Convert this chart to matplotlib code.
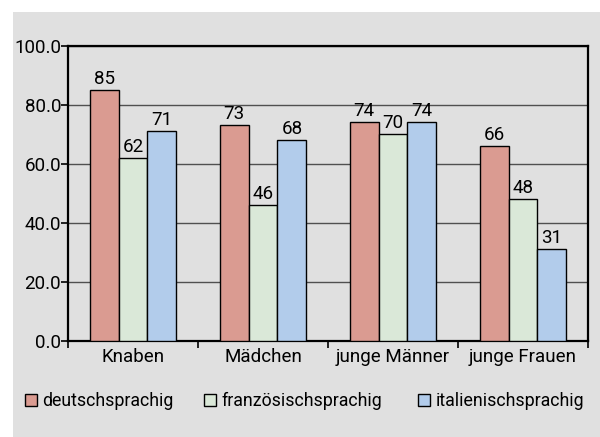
import matplotlib
matplotlib.use("Agg")
import matplotlib.pyplot as plt
from matplotlib.patches import Rectangle, Patch
import numpy as np

categories = ["Knaben", "Mädchen", "junge Männer", "junge Frauen"]
series_names = ["deutschsprachig", "französischsprachig", "italienischsprachig"]
deutsch = [85, 73, 74, 66]
franz = [62, 46, 70, 48]
ital = [71, 68, 74, 31]
colors = ["#da9b91", "#dae8d8", "#b2cceb"]
yticks = [0, 20, 40, 60, 80, 100]

plt.rcParams['font.family'] = ['Roboto', 'DejaVu Sans']
fs = 13.5
fs_leg = 12.8

fig = plt.figure(figsize=(6.0, 4.37), dpi=100)
fig.patch.set_facecolor("white")
bg = "#e0e0e0"
fig.patches.append(Rectangle((13/600, 0), 1 - 13/600, 1 - 12/437, transform=fig.transFigure,
                             facecolor=bg, edgecolor="none", zorder=-10))

ax = fig.add_axes([68/600, 1 - 341/437, 520/600, (341 - 45.7)/437])
ax.set_facecolor(bg)

x = np.arange(len(categories)) + 0.5
w = 0.223
for i, (vals, c) in enumerate(zip([deutsch, franz, ital], colors)):
    pos = x + (i - 1) * w
    bars = ax.bar(pos, vals, width=w, color=c, edgecolor="black", linewidth=1.0, zorder=3)
    for b, v in zip(bars, vals):
        ax.text(b.get_x() + b.get_width() / 2, v + 0.8, f"{v}", ha="center", va="bottom",
                fontsize=fs, zorder=4)

ax.set_xlim(0, 4)
ax.set_ylim(0, 100)
ax.set_yticks(yticks)
ax.set_yticklabels([f"{t:.1f}" for t in yticks], fontsize=fs)
ax.yaxis.grid(True, color="#505050", linewidth=1.0, zorder=0)
ax.set_axisbelow(True)

ax.set_xticks(np.arange(0, 5))
ax.set_xticklabels([])
ax.set_xticks(x, minor=True)
ax.set_xticklabels(categories, minor=True, fontsize=fs)
ax.tick_params(axis="x", which="minor", length=0, pad=5)
ax.tick_params(axis="x", which="major", length=5, width=1.2, direction="out")
ax.tick_params(axis="y", length=5, width=1.2, direction="out", pad=0)
for s in ax.spines.values():
    s.set_color("black")
    s.set_linewidth(1.6)

xpos = [25, 204, 418]
for name, c, xp in zip(series_names, colors, xpos):
    fig.legend(handles=[Patch(facecolor=c, edgecolor="black", linewidth=1.0)], labels=[name],
               loc="center left", bbox_to_anchor=(xp / 600, 1 - 401 / 437),
               frameon=False, fontsize=fs_leg, handlelength=0.66, handleheight=0.66,
               handletextpad=0.33, borderpad=0, borderaxespad=0)

fig.savefig("out.png", dpi=100, facecolor="white")
